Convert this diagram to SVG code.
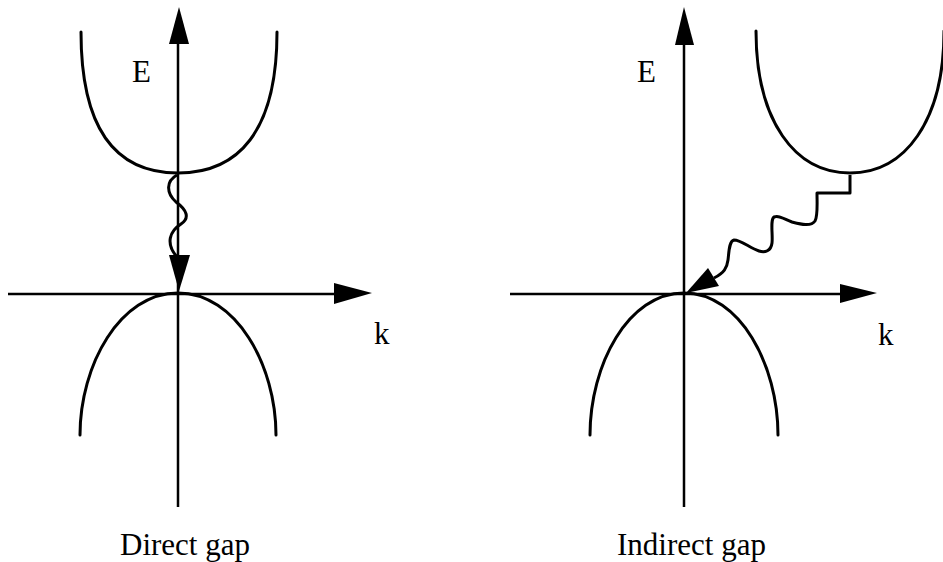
<svg xmlns="http://www.w3.org/2000/svg" width="943" height="562" viewBox="0 0 943 562">
<style>
.ax{stroke:#000;stroke-width:2.5;fill:none}
.band{stroke:#000;stroke-width:3;fill:none;stroke-linecap:round}
.wave{stroke:#000;stroke-width:3;fill:none;stroke-linejoin:round}
.head{fill:#000;stroke:none}
.lbl{font-family:"Liberation Serif","Times New Roman",serif;font-size:31px;fill:#000}
</style>
<rect width="943" height="562" fill="#fff"/>
<g id="direct">
  <g id="direct-axes">
    <line class="ax" x1="178" y1="507" x2="178" y2="40"/>
    <polygon class="head" points="179,7 169,44 189,44"/>
    <line class="ax" x1="8" y1="294" x2="340" y2="294"/>
    <polygon class="head" points="372,293 334,283 334,304"/>
  </g>
  <g id="direct-conduction">
    <path class="band" d="M81,32 C81,132 118,173 178,173 C238,173 277,132 277,32"/>
  </g>
  <g id="direct-valence">
    <path class="band" d="M80,435 C80,365 120,293 178,293 C236,293 276,365 276,435"/>
  </g>
  <g id="direct-transition">
    <path class="wave" d="M177,175 C166,181 166,193 176,202 C187,210 190,218 181,224 C170,231 165,243 177,257"/>
    <polygon class="head" points="169,255 190,255 179,291"/>
  </g>
  <text class="lbl" x="132" y="82">E</text>
  <text class="lbl" x="374" y="344">k</text>
  <text class="lbl" x="120" y="555">Direct gap</text>
</g>
<g id="indirect">
  <g id="indirect-axes">
    <line class="ax" x1="684" y1="507" x2="684" y2="40"/>
    <polygon class="head" points="684,7 675,45 694,45"/>
    <line class="ax" x1="510" y1="294" x2="845" y2="294"/>
    <polygon class="head" points="877,293 840,284 840,303"/>
  </g>
  <g id="indirect-conduction">
    <path class="band" d="M756,31 C756,121 795,173 850,173 C905,173 944,121 944,31"/>
  </g>
  <g id="indirect-valence">
    <path class="band" d="M590,435 C590,365 628,293 684,293 C740,293 778,365 778,435"/>
  </g>
  <g id="indirect-transition">
    <path class="wave" d="M850,175 L850,193 L817,193 C817,203 818,216 815,221 C811,227 800,224 792,222 C784,219 779,215 774,217 C770,220 773,235 772,243 C771,251 765,253 759,251 C750,248 741,240 734,240 C729,241 729,252 728,260 C727,268 724,273 714,278"/>
    <polygon class="head" points="686,293 708,268 719,286"/>
  </g>
  <text class="lbl" x="637" y="82">E</text>
  <text class="lbl" x="878" y="345">k</text>
  <text class="lbl" x="617" y="555">Indirect gap</text>
</g>
</svg>
